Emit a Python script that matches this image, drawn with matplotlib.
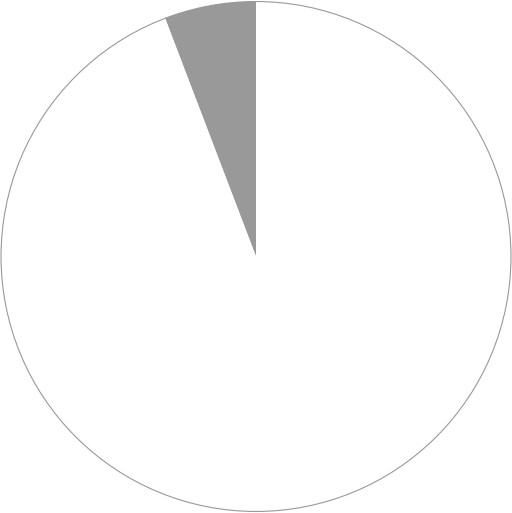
import matplotlib
matplotlib.use("Agg")
import matplotlib.pyplot as plt
from matplotlib.patches import Circle

# ===== データ =====
labels = ["A", "B"]
values = [5.8, 94.2]
colors = ["#999999", "#ffffff"]

# ===== 可視化 =====
fig = plt.figure(figsize=(5.12, 5.13), dpi=100)
ax = fig.add_axes([0, 0, 1, 1])
ax.pie(values, colors=colors, startangle=90, counterclock=True,
       radius=1.0, wedgeprops={"linewidth": 0})
ax.add_patch(Circle((0, 0), 1.0, fill=False, edgecolor="#999999", linewidth=0.8))
ax.set_xlim(-1.004, 1.004)
ax.set_ylim(-1.006, 1.006)
ax.set_aspect("equal")
ax.axis("off")

fig.savefig("out.png", dpi=100, facecolor="white")
